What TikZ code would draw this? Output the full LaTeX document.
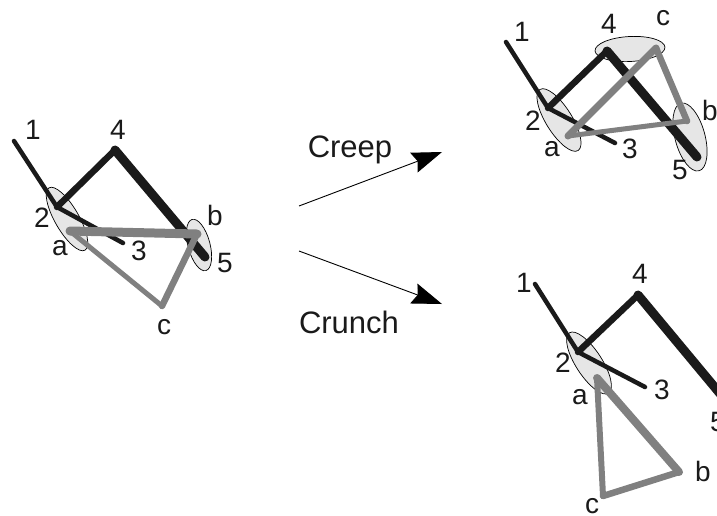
\documentclass[tikz,border=0pt]{standalone}
\usepackage{fontspec}
\setmainfont{Liberation Sans}
\usetikzlibrary{arrows.meta,shapes.geometric}
\definecolor{ink}{HTML}{1A1A1A}
\definecolor{tri}{HTML}{808080}
\definecolor{padbg}{HTML}{E6E6E6}
\tikzset{
  lbl/.style={font=\fontsize{28}{30}\selectfont,inner sep=0pt,text=ink},
  bigl/.style={font=\fontsize{31}{33}\selectfont,inner sep=0pt,text=ink},
  pad/.style={draw=black,fill=padbg,ellipse,line width=0.7pt,inner sep=0pt},
  bar/.style={ink,line cap=round},
  edge/.style={tri,line cap=round},
  move/.style={-{Stealth[length=30pt,width=21pt,inset=4pt]},line width=0.9pt,black},
}
\begin{document}
\begin{tikzpicture}[x=1pt,y=-1pt]
  \useasboundingbox(0,0)rectangle(717,515);
  % left figure
  \node[pad,minimum width=72pt,minimum height=24pt,rotate=-60](La)at(67,219){};
  \node[pad,minimum width=53pt,minimum height=22pt,rotate=-75](Lb)at(199,245){};
  \coordinate(L1)at(14,141);
  \coordinate(L2)at(57,207);
  \coordinate(L3)at(123,243);
  \coordinate(L4)at(115,150);
  \coordinate(L5)at(205,257);
  \coordinate(Lpa)at(70,231);
  \coordinate(Lpb)at(197,234);
  \coordinate(Lpc)at(162,306);
  \draw[bar,line width=4.5pt](L1)--(L2);
  \draw[bar,line width=4.5pt](L2)--(L3);
  \draw[bar,line width=6.5pt](L2)--(L4);
  \draw[bar,line width=9pt](L4)--(L5);
  \draw[edge,line width=9pt](Lpa)--(Lpb);
  \draw[edge,line width=6.5pt](Lpb)--(Lpc);
  \draw[edge,line width=5pt](Lpc)--(Lpa);
  \node[lbl](l1)at(33,130){1};
  \node[lbl](l2)at(42,218){2};
  \node[lbl](l3)at(139,251){3};
  \node[lbl](l4)at(118,130){4};
  \node[lbl](l5)at(225,263){5};
  \node[lbl](la)at(60,248){a};
  \node[lbl](lb)at(215,215){b};
  \node[lbl](lc)at(164,327){c};
  % creep
  \node[pad,minimum width=72pt,minimum height=26pt,rotate=-58](Ta)at(559,120){};
  \node[pad,minimum width=70pt,minimum height=30pt,rotate=-75](Tb)at(690,137){};
  \node[pad,minimum width=70pt,minimum height=25pt,rotate=3](Tc)at(630,49){};
  \coordinate(T1)at(506,42);
  \coordinate(T2)at(548,108);
  \coordinate(T3)at(615,143);
  \coordinate(T4)at(607,51);
  \coordinate(T5)at(697,157);
  \coordinate(Tpa)at(568,136);
  \coordinate(Tpb)at(687,121);
  \coordinate(Tpc)at(656,48);
  \draw[bar,line width=4.5pt](T1)--(T2);
  \draw[bar,line width=4.5pt](T2)--(T3);
  \draw[bar,line width=6.5pt](T2)--(T4);
  \draw[bar,line width=9pt](T4)--(T5);
  \draw[edge,line width=5pt](Tpa)--(Tpb);
  \draw[edge,line width=6.5pt](Tpb)--(Tpc);
  \draw[edge,line width=7pt](Tpc)--(Tpa);
  \node[lbl](t1)at(522,32){1};
  \node[lbl](t2)at(533,121){2};
  \node[lbl](t3)at(630,149){3};
  \node[lbl](t4)at(609,24){4};
  \node[lbl](t5)at(680,170){5};
  \node[lbl](ta)at(552,149){a};
  \node[lbl](tb)at(710,110){b};
  \node[lbl](tc)at(663,18){c};
  % crunch
  \node[pad,minimum width=72pt,minimum height=26pt,rotate=-57](Ba)at(589,363){};
  \coordinate(B1)at(535,284);
  \coordinate(B2)at(578,352);
  \coordinate(B3)at(645,387);
  \coordinate(B4)at(638,295);
  \coordinate(B5)at(727,402);
  \coordinate(Bpa)at(597,378);
  \coordinate(Bpb)at(679,472);
  \coordinate(Bpc)at(603,496);
  \draw[bar,line width=4.5pt](B1)--(B2);
  \draw[bar,line width=4.5pt](B2)--(B3);
  \draw[bar,line width=6.5pt](B2)--(B4);
  \draw[bar,line width=9pt](B4)--(B5);
  \draw[edge,line width=8pt](Bpa)--(Bpb);
  \draw[edge,line width=6.5pt](Bpb)--(Bpc);
  \draw[edge,line width=6pt](Bpc)--(Bpa);
  \node[lbl](b1)at(524,283){1};
  \node[lbl](b2)at(563,363){2};
  \node[lbl](b3)at(662,390){3};
  \node[lbl](b4)at(640,274){4};
  \node[lbl](b5)at(718,422){5};
  \node[lbl](ba)at(580,397){a};
  \node[lbl](bb)at(703,471){b};
  \node[lbl](bc)at(592,506){c};
  % arrows
  \coordinate(creepfrom)at(299,206);
  \coordinate(creepto)at(442,152);
  \coordinate(crunchfrom)at(299,251);
  \coordinate(crunchto)at(442,304);
  \draw[move](creepfrom)--(creepto);
  \draw[move](crunchfrom)--(crunchto);
  \node[bigl](creep)at(350,150){Creep};
  \node[bigl](crunch)at(349,322){Crunch};
\end{tikzpicture}
\end{document}
